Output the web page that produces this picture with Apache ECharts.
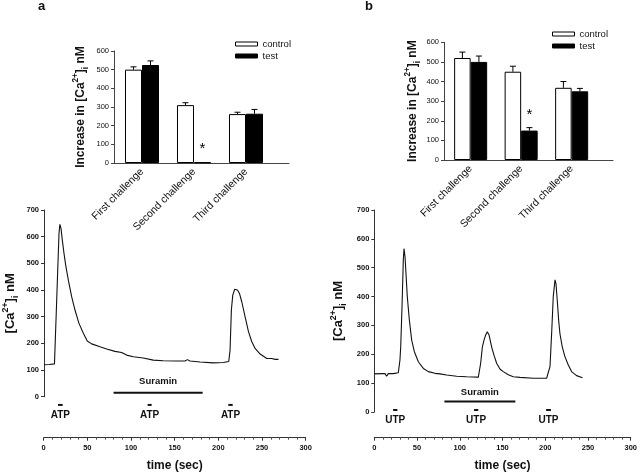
<!DOCTYPE html>
<html><head><meta charset="utf-8">
<script src="https://cdn.jsdelivr.net/npm/echarts@6/dist/echarts.min.js"></script>
<style>html,body{margin:0;padding:0;background:#fff}#c{width:640px;height:474px}</style>
</head><body><div id="c"></div><script>
// ---------- data ----------
const catLabels = ['First challenge', 'Second challenge', 'Third challenge'];
const aControl = [500, 310, 262];
const aControlErr = [15, 13, 10];
const aTest = [525, 4, 264];
const aTestErr = [22, 0, 23];
const aSig = [0, 1, 0];
const bControl = [520, 450, 368];
const bControlErr = [30, 28, 32];
const bTest = [500, 150, 350];
const bTestErr = [30, 15, 15];
const bSig = [0, 1, 0];

const traceATime = [0, 6, 12, 14, 16, 17.2, 18.2, 19.5, 21, 22.9, 24.8, 27.9, 31.7, 35.5, 40.1, 45.1, 49.6, 54.6, 64.2, 71.8, 81.4, 89, 94.7, 102.4, 113.8, 125.3, 136.8, 152, 161.7, 164.4, 167.4, 178.9, 194.2, 205.6, 211.8, 213.3, 214.8, 216.4, 218.6, 221.7, 224, 226.7, 230.5, 234.4, 238.2, 242, 247.8, 255.4, 261.1, 263, 265, 268.8];
const traceAConc = [120, 121, 123, 310, 500, 612, 646, 631, 587, 538, 494, 437, 375, 325, 275, 238, 209, 198, 187, 179, 170, 166, 156, 150, 145, 137, 135, 134, 134, 139, 134, 130, 127, 128, 132, 175, 325, 381, 403, 400, 388, 356, 300, 244, 206, 181, 160, 143, 143, 147, 140, 140];
const traceBTime = [0, 10, 12.4, 14.3, 16.2, 22, 27.8, 29.7, 30.6, 32.1, 33.6, 34.4, 35.6, 36.7, 38.2, 40.6, 43.3, 46.4, 51, 56.8, 62.6, 70.3, 76.1, 83.8, 95.4, 107, 120.5, 121.6, 123.2, 125.2, 127.1, 129, 130.9, 132.9, 135.9, 138.6, 141.7, 145.5, 149.4, 155.2, 161, 168.7, 184.2, 199.6, 201.9, 203.5, 205.4, 207.3, 209.3, 210.4, 211.9, 213.5, 215, 217.7, 220.8, 224.7, 228.5, 234.3, 241.2];
const traceBConc = [132, 133, 133, 124, 133, 133, 136, 180, 226, 365, 527, 566, 538, 480, 400, 319, 249, 209, 174, 151, 140, 134, 132, 128, 124, 122, 121, 124, 169, 226, 249, 267, 278, 267, 226, 197, 169, 149, 140, 129, 122, 120, 117, 117, 122, 157, 272, 400, 458, 446, 388, 319, 272, 226, 192, 163, 140, 126, 119];

// agonist application bars (sec) and suramin period (sec)
const aAgonistOn = [16.4, 119, 211.4];
const aAgonistOff = [21.7, 123.6, 216.4];
const aAgonistName = 'ATP';
const aSuramin = [80, 182];
const bAgonistOn = [22, 116.6, 201];
const bAgonistOff = [27, 121.6, 206.6];
const bAgonistName = 'UTP';
const bSuramin = [82, 165];
const suraminName = 'Suramin';

// ---------- styling helpers ----------
const FF = 'Liberation Sans, Arial, sans-serif';
const TXT = '#111';
const GAP = 0.346;

function titleRich(base) {
  return {
    fontFamily: FF, color: TXT,
    rich: {
      b: {fontSize: base, fontWeight: 'bold', lineHeight: base + 6, fontFamily: FF, color: TXT},
      sup: {fontSize: base * 0.68, fontWeight: 'bold', verticalAlign: 'top', lineHeight: base + 6, fontFamily: FF, color: TXT},
      sub: {fontSize: base * 0.68, fontWeight: 'bold', verticalAlign: 'bottom', lineHeight: base + 6, fontFamily: FF, color: TXT}
    }
  };
}
const barTitle = '{b|Increase in [Ca}{sup|2+}{b|]}{sub|i}{b| nM}';
const traceTitle = '{b|[Ca}{sup|2+}{b|]}{sub|i}{b| nM}';

function frameX(g) {
  return {gridIndex: g, type: 'value', min: 0, max: 1,
    axisLine: {show: true, lineStyle: {color: '#444', width: 1}},
    axisTick: {show: false}, axisLabel: {show: false}, splitLine: {show: false}};
}
function catX(g) {
  return {gridIndex: g, type: 'category', data: catLabels,
    axisLine: {show: false}, axisTick: {show: false}, splitLine: {show: false},
    axisLabel: {rotate: 45, interval: 0, fontSize: 10.5, margin: 7, color: TXT, fontFamily: FF}};
}
function barY(g, gap) {
  return {gridIndex: g, type: 'value', min: 0, max: 600, interval: 100,
    axisLine: {show: true, lineStyle: {color: '#444'}},
    axisTick: {show: true, length: 3, lineStyle: {color: '#444'}},
    axisLabel: {fontSize: 7.5, margin: 5, color: TXT, fontFamily: FF},
    splitLine: {show: false},
    name: barTitle, nameLocation: 'middle', nameRotate: 90, nameGap: gap,
    nameTextStyle: titleRich(12)};
}
function hiddenY(g, min, max) {
  return {gridIndex: g, type: 'value', min: min, max: max, show: false, splitLine: {show: false}};
}
function traceY(g, gap) {
  return {gridIndex: g, type: 'value', min: 0, max: 700, interval: 100,
    axisLine: {show: true, lineStyle: {color: '#333'}},
    axisTick: {show: true, length: 3, lineStyle: {color: '#333'}},
    axisLabel: {fontSize: 7.5, fontWeight: 'bold', margin: 5, color: TXT, fontFamily: FF},
    splitLine: {show: false},
    name: traceTitle, nameLocation: 'middle', nameRotate: 90, nameGap: gap,
    nameTextStyle: titleRich(13)};
}
function timeX(g) {
  return {gridIndex: g, type: 'value', min: 0, max: 300, interval: 50,
    axisLine: {show: true, onZero: false, lineStyle: {color: '#333'}},
    axisTick: {show: true, length: 3, lineStyle: {color: '#333'}},
    minorTick: {show: true, splitNumber: 5, length: 2, lineStyle: {color: '#555'}},
    axisLabel: {fontSize: 7.5, fontWeight: 'bold', margin: 6, color: TXT, fontFamily: FF},
    splitLine: {show: false},
    name: 'time (sec)', nameLocation: 'middle', nameGap: 22,
    nameTextStyle: {fontSize: 12, fontWeight: 'bold', color: TXT, fontFamily: FF}};
}

function barSeries(name, xi, yi, vals, isControl) {
  return {type: 'bar', name: name, xAxisIndex: xi, yAxisIndex: yi, data: vals,
    barGap: 0, barCategoryGap: (GAP * 100) + '%',
    itemStyle: isControl ? {color: '#fff', borderColor: '#000', borderWidth: 1} : {color: '#000', borderColor: '#000', borderWidth: 1},
    silent: true};
}
function errSeries(xi, yi, vals, errs, sig, side) {
  return {type: 'custom', xAxisIndex: xi, yAxisIndex: yi, z: 5, silent: true,
    data: vals.map((v, i) => [i, v, errs[i], sig ? sig[i] : 0]),
    renderItem(params, api) {
      const i = api.value(0), v = api.value(1), e = api.value(2), s = api.value(3);
      const band = api.size([1, 0])[0];
      const bw = band * (1 - GAP) / 2;
      const base = api.coord([i, v]);
      const top = api.coord([i, v + e]);
      const x = base[0] + side * bw / 2;
      const ch = [];
      if (e > 0) {
        ch.push({type: 'line', shape: {x1: x, y1: base[1], x2: x, y2: top[1]}, style: {stroke: '#000', lineWidth: 1}});
        ch.push({type: 'line', shape: {x1: x - 3, y1: top[1], x2: x + 3, y2: top[1]}, style: {stroke: '#000', lineWidth: 1}});
      }
      if (s) {
        ch.push({type: 'text', style: {text: '*', x: x, y: top[1] - 13, align: 'center', verticalAlign: 'middle', fontSize: 15, fill: '#000', fontFamily: FF}});
      }
      return {type: 'group', children: ch};
    }};
}
function traceSeries(xi, yi, t, c) {
  return {type: 'line', xAxisIndex: xi, yAxisIndex: yi, data: t.map((x, i) => [x, c[i]]),
    symbol: 'none', showSymbol: false, silent: true,
    lineStyle: {color: '#111', width: 1.1}};
}
function markerSeries(xi, yi, on, off, sur, barLevel, surLevel) {
  const d = on.map((x, i) => [x, off[i], barLevel]);
  d.push([sur[0], sur[1], surLevel]);
  return {type: 'custom', xAxisIndex: xi, yAxisIndex: yi, silent: true, data: d,
    renderItem(params, api) {
      const p1 = api.coord([api.value(0), api.value(2)]);
      const p2 = api.coord([api.value(1), api.value(2)]);
      return {type: 'line', shape: {x1: p1[0], y1: p1[1], x2: p2[0], y2: p2[1]}, style: {stroke: '#111', lineWidth: 2}};
    }};
}
function labelSeries(xi, yi, on, off, name, sur, labLevel, surTextLevel) {
  const items = on.map((x, i) => ({value: [(x + off[i]) / 2, labLevel], name: name, fs: 10}));
  items.push({value: [(sur[0] + sur[1]) / 2, surTextLevel], name: suraminName, fs: 9.5});
  return {type: 'custom', xAxisIndex: xi, yAxisIndex: yi, silent: true,
    data: items.map(it => ({value: it.value, name: it.name})),
    renderItem(params, api) {
      const it = items[params.dataIndex];
      const p = api.coord([api.value(0), api.value(1)]);
      return {type: 'text', style: {text: it.name, x: p[0], y: p[1], align: 'center', verticalAlign: 'middle', fontSize: it.fs, fontWeight: 'bold', fill: TXT, fontFamily: FF}};
    }};
}
function legendCfg(left, top) {
  return {left: left, top: top, orient: 'vertical', icon: 'rect', itemWidth: 22, itemHeight: 4, itemGap: 0,
    selectedMode: false, padding: 0,
    textStyle: {fontSize: 9.5, lineHeight: 12, color: TXT, fontFamily: FF},
    data: [{name: 'control', itemStyle: {color: '#fff', borderColor: '#000', borderWidth: 1}},
           {name: 'test', itemStyle: {color: '#000', borderColor: '#000', borderWidth: 1}}]};
}

const option = {
  animation: false,
  backgroundColor: '#fff',
  textStyle: {fontFamily: FF},
  graphic: [
    {type: 'text', left: 38, top: 0, style: {text: 'a', fontSize: 13, fontWeight: 'bold', fill: TXT, fontFamily: FF}},
    {type: 'text', left: 365, top: 0, style: {text: 'b', fontSize: 13, fontWeight: 'bold', fill: TXT, fontFamily: FF}}
  ],
  legend: [legendCfg(235, 38), legendCfg(552, 28)],
  grid: [
    {left: 114, top: 51, width: 175, height: 112},
    {left: 116, top: 51, width: 156, height: 112},
    {left: 444, top: 42.3, width: 169, height: 117.7},
    {left: 445.4, top: 42.3, width: 151.5, height: 117.7},
    {left: 43.7, top: 210, width: 262, height: 186.7},
    {left: 43.7, top: 210, width: 262, height: 227.7},
    {left: 374.3, top: 210, width: 259, height: 202},
    {left: 374.3, top: 210, width: 259, height: 227.7}
  ],
  xAxis: [frameX(0), catX(1), frameX(2), catX(3),
    {gridIndex: 4, type: 'value', min: 0, max: 300, show: false},
    timeX(5),
    {gridIndex: 6, type: 'value', min: 0, max: 300, show: false},
    timeX(7)],
  yAxis: [barY(0, 24), hiddenY(1, 0, 600), barY(2, 22), hiddenY(3, 0, 600),
    traceY(4, 24), hiddenY(5, -153.9, 700), traceY(6, 26), hiddenY(7, -89.1, 700)],
  series: [
    barSeries('control', 1, 1, aControl, true),
    barSeries('test', 1, 1, aTest, false),
    errSeries(1, 1, aControl, aControlErr, null, -1),
    errSeries(1, 1, aTest, aTestErr, aSig, 1),
    barSeries('control', 3, 3, bControl, true),
    barSeries('test', 3, 3, bTest, false),
    errSeries(3, 3, bControl, bControlErr, null, -1),
    errSeries(3, 3, bTest, bTestErr, bSig, 1),
    traceSeries(4, 4, traceATime, traceAConc),
    traceSeries(6, 6, traceBTime, traceBConc),
    markerSeries(5, 5, aAgonistOn, aAgonistOff, aSuramin, -31, 15),
    labelSeries(5, 5, aAgonistOn, aAgonistOff, aAgonistName, aSuramin, -69, 56),
    markerSeries(7, 7, bAgonistOn, bAgonistOff, bSuramin, 7, 36),
    labelSeries(7, 7, bAgonistOn, bAgonistOff, bAgonistName, bSuramin, -28, 67)
  ]
};
const chart = echarts.init(document.getElementById('c'), null, {renderer: 'canvas'});
chart.setOption(option);
</script></body></html>
